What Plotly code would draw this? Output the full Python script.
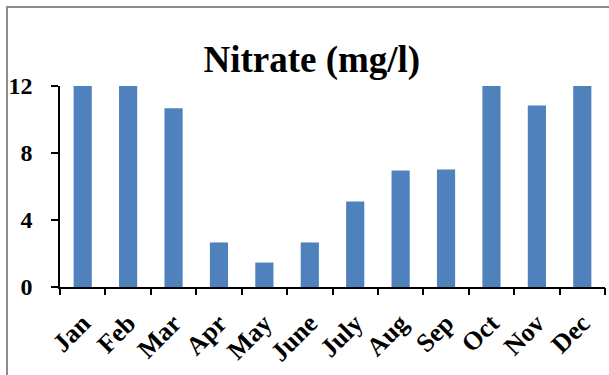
import plotly.graph_objects as go

months = ["Jan", "Feb", "Mar", "Apr", "May", "June", "July", "Aug", "Sep", "Oct", "Nov", "Dec"]
nitrate = [12, 12, 10.67, 2.66, 1.46, 2.66, 5.11, 6.96, 7.02, 12, 10.83, 12]
y_ticks = [0, 4, 8, 12]
title_text = "Nitrate (mg/l)"

n = len(months)
xpos = list(range(n))
boundaries = [i - 0.5 for i in range(n + 1)]

FONT = "Liberation Serif, Times New Roman, serif"

fig = go.Figure()
fig.add_trace(go.Bar(
    x=xpos, y=nitrate,
    marker=dict(color="#4F81BD", line=dict(width=0)),
    showlegend=False,
))
# invisible trace on a second x-axis for boundary tick marks
fig.add_trace(go.Scatter(x=[boundaries[0], boundaries[-1]], y=[0, 0], xaxis="x2",
                         mode="markers", marker=dict(opacity=0), showlegend=False, hoverinfo="skip"))

fig.update_layout(
    width=609, height=375,
    margin=dict(l=60, r=4, t=86, b=88),
    paper_bgcolor="white", plot_bgcolor="white",
    bargap=0.6,
    title=dict(text="<b>" + title_text + "</b>", x=0.512, xanchor="center",
               y=0.843, yanchor="middle", yref="container",
               font=dict(family=FONT, size=37, color="black")),
    xaxis=dict(
        range=[boundaries[0], boundaries[-1]],
        tickmode="array", tickvals=xpos, ticktext=["<b>" + m + "</b>" for m in months],
        tickangle=-45, ticks="", showgrid=False, zeroline=False,
        showline=True, linecolor="black", linewidth=1.5,
        tickfont=dict(family=FONT, size=26, color="black"),
        ticklabelstandoff=9,
    ),
    xaxis2=dict(
        overlaying="x", matches="x", side="bottom", anchor="y",
        tickmode="array", tickvals=boundaries, ticktext=[""] * len(boundaries),
        ticks="outside", ticklen=7, tickwidth=1.5, tickcolor="black",
        showgrid=False, zeroline=False, showline=False,
    ),
    yaxis=dict(
        range=[0, 12], tickmode="array", tickvals=y_ticks,
        ticktext=["<b>%d</b>" % v for v in y_ticks],
        ticks="outside", ticklen=7, tickwidth=1.5, tickcolor="black",
        showline=True, linecolor="black", linewidth=1.5,
        showgrid=False, zeroline=False,
        tickfont=dict(family=FONT, size=24, color="black"),
        ticklabelstandoff=14,
    ),
    shapes=[dict(type="rect", xref="paper", yref="paper",
                 x0=-0.0972, x1=1.2, y0=-1.0, y1=1.393,
                 line=dict(color="#8c8c8c", width=2), fillcolor="rgba(0,0,0,0)", layer="below")],
)

fig.write_html("out.html")
